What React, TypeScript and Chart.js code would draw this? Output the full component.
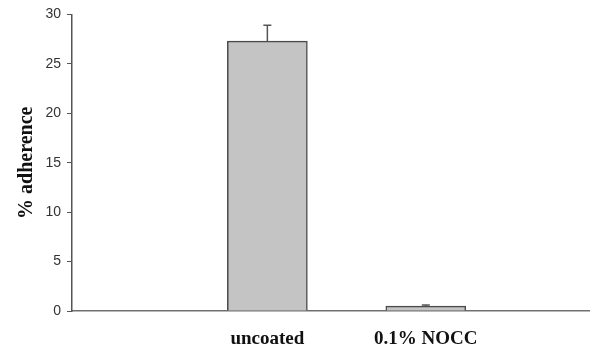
import React, { useEffect, useRef } from "react";
import { Chart, registerables } from "chart.js";

Chart.register(...registerables);

const categories = ["uncoated", "0.1% NOCC"];
const categoryPositions = [1, 2];
const adherenceValues = [27.3, 0.5];
const errorValues = [1.6, 0.1];
const yTicks = [0, 5, 10, 15, 20, 25, 30];

const errorBarPlugin = {
  id: "errorBars",
  afterDatasetsDraw(chart: any) {
    const ctx = chart.ctx;
    const xs = chart.scales.x;
    const ys = chart.scales.y;
    ctx.save();
    ctx.strokeStyle = "#555555";
    ctx.lineWidth = 1.5;
    adherenceValues.forEach((v, i) => {
      const x = xs.getPixelForValue(categoryPositions[i]);
      const y0 = ys.getPixelForValue(v);
      const y1 = ys.getPixelForValue(v + errorValues[i]);
      ctx.beginPath();
      ctx.moveTo(x, y0);
      ctx.lineTo(x, y1);
      ctx.moveTo(x - 4, y1);
      ctx.lineTo(x + 4, y1);
      ctx.stroke();
    });
    ctx.restore();
  },
};

export default function App() {
  const ref = useRef<HTMLCanvasElement>(null);
  useEffect(() => {
    const canvas = ref.current;
    if (!canvas) return;
    const chart = new Chart(canvas, {
      type: "bar",
      data: {
        datasets: [
          {
            data: adherenceValues.map((v, i) => ({ x: categoryPositions[i], y: v })),
            backgroundColor: "#c4c4c4",
            borderColor: "#4a4a4a",
            borderWidth: 1.5,
            barThickness: 80,
          },
        ],
      },
      options: {
        animation: false,
        responsive: false,
        maintainAspectRatio: false,
        layout: { padding: { top: 12, right: 2, left: 0, bottom: 0 } },
        plugins: { legend: { display: false }, tooltip: { enabled: false } },
        scales: {
          x: {
            type: "linear",
            offset: false,
            min: -0.233,
            max: 3.03,
            grid: { display: false, drawTicks: false, offset: false },
            border: { display: true, color: "#707070", width: 1.5 },
            afterBuildTicks: (s: any) => {
              s.ticks = categoryPositions.map((p) => ({ value: p }));
            },
            afterFit: (s: any) => {
              s.height = 38;
            },
            ticks: {
              padding: 17,
              color: "#111111",
              font: { family: "'Liberation Serif', 'Times New Roman', serif", size: 19, weight: "bold" },
              callback: (v: any) => {
                const idx = categoryPositions.indexOf(Number(v));
                return idx >= 0 ? categories[idx] : "";
              },
            },
          },
          y: {
            min: 0,
            max: 30,
            afterBuildTicks: (s: any) => {
              s.ticks = yTicks.map((t) => ({ value: t }));
            },
            afterFit: (s: any) => {
              s.width = 72;
            },
            grid: { display: true, drawOnChartArea: false, drawTicks: true, tickLength: 5, color: "#555555", lineWidth: 1 },
            border: { display: true, color: "#555555", width: 1.5 },
            ticks: {
              padding: 6,
              color: "#333333",
              font: { family: "'Liberation Sans', Arial, sans-serif", size: 14 },
            },
            title: {
              display: true,
              text: "% adherence",
              color: "#111111",
              padding: { top: 15, bottom: 0 },
              font: { family: "'Liberation Serif', 'Times New Roman', serif", size: 20, weight: "bold" },
            },
          },
        },
      },
      plugins: [errorBarPlugin],
    } as any);
    return () => chart.destroy();
  }, []);
  return (
    <div style={{ position: "fixed", left: 0, top: 0, width: 591, height: 349, background: "#fff" }}>
      <canvas ref={ref} width={591} height={349} style={{ width: 591, height: 349 }} />
    </div>
  );
}
